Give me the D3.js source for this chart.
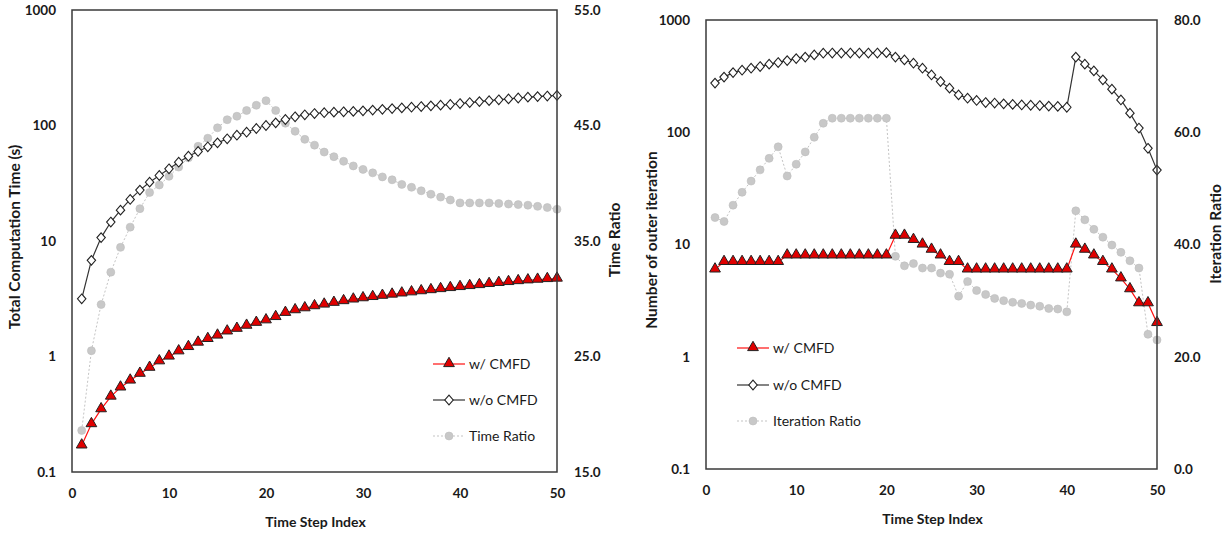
<!DOCTYPE html>
<html>
<head>
<meta charset="utf-8">
<script src="https://cdn.jsdelivr.net/npm/d3@7"></script>
<style>
body { margin: 0; background: #fff; }
text { font-family: Lato, "Open Sans", sans-serif; fill: #1a1a1a; }
</style>
</head>
<body>
<svg id="screen" width="1227" height="535"></svg>
<script>
// time step index shared by both charts
var steps = d3.range(1, 51);

// left chart: total computation time (s) and time ratio
var timeWithCmfd = [0.17, 0.26, 0.35, 0.45, 0.54, 0.62, 0.71, 0.80, 0.91, 1.00,
    1.11, 1.21, 1.32, 1.42, 1.52, 1.65, 1.74, 1.85, 1.96, 2.06,
    2.20, 2.39, 2.52, 2.62, 2.73, 2.82, 2.92, 3.02, 3.12, 3.20,
    3.28, 3.36, 3.44, 3.52, 3.60, 3.68, 3.76, 3.84, 3.92, 4.00,
    4.08, 4.16, 4.25, 4.34, 4.42, 4.50, 4.57, 4.63, 4.69, 4.73];
var timeWithoutCmfd = [3.16, 6.8, 10.7, 14.6, 18.5, 22.9, 27.6, 32.3, 36.9, 42.2,
    48.1, 54.2, 59.6, 65.4, 70.8, 76.7, 82.4, 87.5, 94.2, 100,
    105.5, 112.7, 119, 123.8, 127, 129, 130.5, 131.5, 132.5, 134,
    136, 138, 140, 142, 144, 146, 148, 150, 152, 155,
    158, 161, 164, 167, 170, 173, 176, 178, 180, 182];
var timeRatio = [18.6, 25.5, 29.5, 32.3, 34.45, 36.2, 37.8, 39.2, 39.85, 40.6,
    41.4, 42.2, 43.2, 43.9, 44.8, 45.5, 45.8, 46.3, 46.75, 47.15,
    46.3, 45.2, 44.5, 43.8, 43.3, 42.7, 42.3, 41.9, 41.5, 41.2,
    40.9, 40.55, 40.3, 39.9, 39.65, 39.35, 39.05, 38.8, 38.55, 38.3,
    38.3, 38.3, 38.3, 38.25, 38.2, 38.15, 38.1, 38.0, 37.9, 37.75];

// right chart: number of outer iterations and iteration ratio
var iterWithCmfd = [6, 7, 7, 7, 7, 7, 7, 7, 8, 8,
    8, 8, 8, 8, 8, 8, 8, 8, 8, 8,
    12, 12, 11, 10, 9, 8, 7, 7, 6, 6,
    6, 6, 6, 6, 6, 6, 6, 6, 6, 6,
    10, 9, 8, 7, 6, 5, 4, 3, 3, 2];
var iterWithoutCmfd = [274, 310, 340, 357, 372, 385, 404, 418, 435, 453,
    467, 489, 506, 508, 508, 508, 508, 508, 508, 512,
    467, 441, 412, 372, 324, 283, 247, 215, 201, 192,
    184, 182, 179, 177, 175, 174, 173, 171, 170, 167,
    467, 404, 352, 293, 242, 194, 148, 109, 72, 46];
var iterRatio = [44.8, 44.1, 47.0, 49.3, 51.3, 53.3, 55.35, 57.4, 52.2, 54.3,
    56.5, 59.1, 61.6, 62.5, 62.5, 62.5, 62.5, 62.5, 62.5, 62.5,
    37.9, 36.2, 36.6, 35.8, 35.8, 34.9, 34.7, 30.8, 33.4, 31.8,
    31.1, 30.4, 30.0, 29.7, 29.5, 29.2, 29.0, 28.6, 28.5, 28.0,
    46.0, 44.4, 42.7, 41.3, 39.9, 38.6, 37.1, 35.8, 24.0, 23.0];

var xTicks = [0, 10, 20, 30, 40, 50];
var logTicks = [0.1, 1, 10, 100, 1000];
var timeRatioTicks = [15, 25, 35, 45, 55];
var iterRatioTicks = [0, 20, 40, 60, 80];

var svg = d3.select("#screen");

function marker(g, kind, x, y) {
    if (kind == "triangle") {
        g.append("path")
            .attr("d", d3.symbol().type(d3.symbolTriangle).size(50)())
            .attr("transform", "translate(" + x + "," + (y - 0.5) + ")")
            .attr("fill", "#e00000")
            .attr("stroke", "#222")
            .attr("stroke-width", 1);
    } else if (kind == "diamond") {
        g.append("path")
            .attr("d", "M0,-4.8L4.2,0L0,4.8L-4.2,0Z")
            .attr("transform", "translate(" + x + "," + y + ")")
            .attr("fill", "#fff")
            .attr("stroke", "#222")
            .attr("stroke-width", 1.1);
    } else {
        g.append("circle")
            .attr("cx", x).attr("cy", y).attr("r", 4)
            .attr("fill", "#c8c8c8")
            .attr("stroke", "#bdbdbd")
            .attr("stroke-width", 0.6);
    }
}

function drawChart(c) {
    var g = svg.append("g");

    var x = d3.scaleLinear().domain([0, 50]).range([c.left, c.right]);
    var y = d3.scaleLog().domain([0.1, 1000]).range([c.bottom, c.top]);
    var y2 = d3.scaleLinear().domain([c.y2Ticks[0], c.y2Ticks[c.y2Ticks.length - 1]]).range([c.bottom, c.top]);

    // series: ratio (secondary axis) behind, then the two primary lines
    var series = [
        { values: c.ratio, scale: y2, color: "#c4c4c4", width: 1, dash: "2,2", kind: "circle" },
        { values: c.without, scale: y, color: "#333", width: 1.2, dash: null, kind: "diamond" },
        { values: c.with, scale: y, color: "#ff1010", width: 1.2, dash: null, kind: "triangle" }
    ];

    series.forEach(function (s) {
        var line = d3.line()
            .x(function (d, i) { return x(steps[i]); })
            .y(function (d) { return s.scale(d); });
        g.append("path")
            .datum(s.values)
            .attr("d", line)
            .attr("fill", "none")
            .attr("stroke", s.color)
            .attr("stroke-width", s.width)
            .attr("stroke-dasharray", s.dash);
        s.values.forEach(function (d, i) {
            marker(g, s.kind, x(steps[i]), s.scale(d));
        });
    });

    // plot frame
    g.append("rect")
        .attr("x", c.left).attr("y", c.top)
        .attr("width", c.right - c.left).attr("height", c.bottom - c.top)
        .attr("fill", "none")
        .attr("stroke", "#3a3a3a")
        .attr("stroke-width", 1.5);

    var font = function (sel) {
        sel.selectAll("text").attr("font-size", "13.5px").attr("font-weight", "bold").attr("fill", "#1a1a1a");
        sel.select(".domain").remove();
        sel.selectAll("line").remove();
    };

    g.append("g")
        .attr("transform", "translate(" + (c.left - 13) + ",0)")
        .call(d3.axisLeft(y).tickValues(logTicks).tickSize(0).tickFormat(function (d) { return d; }))
        .call(font);

    g.append("g")
        .attr("transform", "translate(" + (c.right + 14) + ",0)")
        .call(d3.axisRight(y2).tickValues(c.y2Ticks).tickSize(0).tickFormat(d3.format(".1f")))
        .call(font);

    g.append("g")
        .attr("transform", "translate(0," + (c.bottom + 13) + ")")
        .call(d3.axisBottom(x).tickValues(xTicks).tickSize(0))
        .call(font);

    // axis titles
    g.append("text")
        .attr("x", (c.left + c.right) / 2 + 1)
        .attr("y", c.xTitleY)
        .attr("text-anchor", "middle")
        .attr("font-size", "14px").attr("font-weight", "bold")
        .text("Time Step Index");

    g.append("text")
        .attr("transform", "translate(" + c.yTitleX + "," + c.yTitleMid + ") rotate(-90)")
        .attr("dy", "0.35em")
        .attr("text-anchor", "middle")
        .attr("font-size", "15.5px").attr("font-weight", "bold")
        .text(c.yTitle);

    g.append("text")
        .attr("transform", "translate(" + c.y2TitleX + "," + c.y2TitleMid + ") rotate(-90)")
        .attr("dy", "0.35em")
        .attr("text-anchor", "middle")
        .attr("font-size", "15.5px").attr("font-weight", "bold")
        .text(c.y2Title);

    // legend
    var legendKinds = ["triangle", "diamond", "circle"];
    var legendColors = ["#ff1010", "#333", "#c4c4c4"];
    c.legend.forEach(function (label, i) {
        var ly = c.legendY[i];
        g.append("line")
            .attr("x1", c.legendX).attr("x2", c.legendX + 32)
            .attr("y1", ly).attr("y2", ly)
            .attr("stroke", legendColors[i])
            .attr("stroke-width", 1.2)
            .attr("stroke-dasharray", i == 2 ? "2,2" : null);
        marker(g, legendKinds[i], c.legendX + 16, ly);
        g.append("text")
            .attr("x", c.legendX + 36).attr("y", ly)
            .attr("dy", "0.35em")
            .attr("font-size", "14px")
            .text(label);
    });
}

drawChart({
    left: 72, right: 557, top: 10, bottom: 472,
    with: timeWithCmfd, without: timeWithoutCmfd, ratio: timeRatio,
    y2Ticks: timeRatioTicks,
    yTitle: "Total Computation Time (s)", y2Title: "Time Ratio",
    yTitleX: 15, y2TitleX: 615, yTitleMid: 237, y2TitleMid: 240, xTitleY: 527,
    legend: ["w/ CMFD", "w/o CMFD", "Time Ratio"],
    legendX: 433, legendY: [364, 400, 436]
});

drawChart({
    left: 706, right: 1157, top: 20, bottom: 469,
    with: iterWithCmfd, without: iterWithoutCmfd, ratio: iterRatio,
    y2Ticks: iterRatioTicks,
    yTitle: "Number of outer iteration", y2Title: "Iteration Ratio",
    yTitleX: 652, y2TitleX: 1216, yTitleMid: 240, y2TitleMid: 234, xTitleY: 524,
    legend: ["w/ CMFD", "w/o CMFD", "Iteration Ratio"],
    legendX: 737, legendY: [348, 385, 421]
});
</script>
</body>
</html>
